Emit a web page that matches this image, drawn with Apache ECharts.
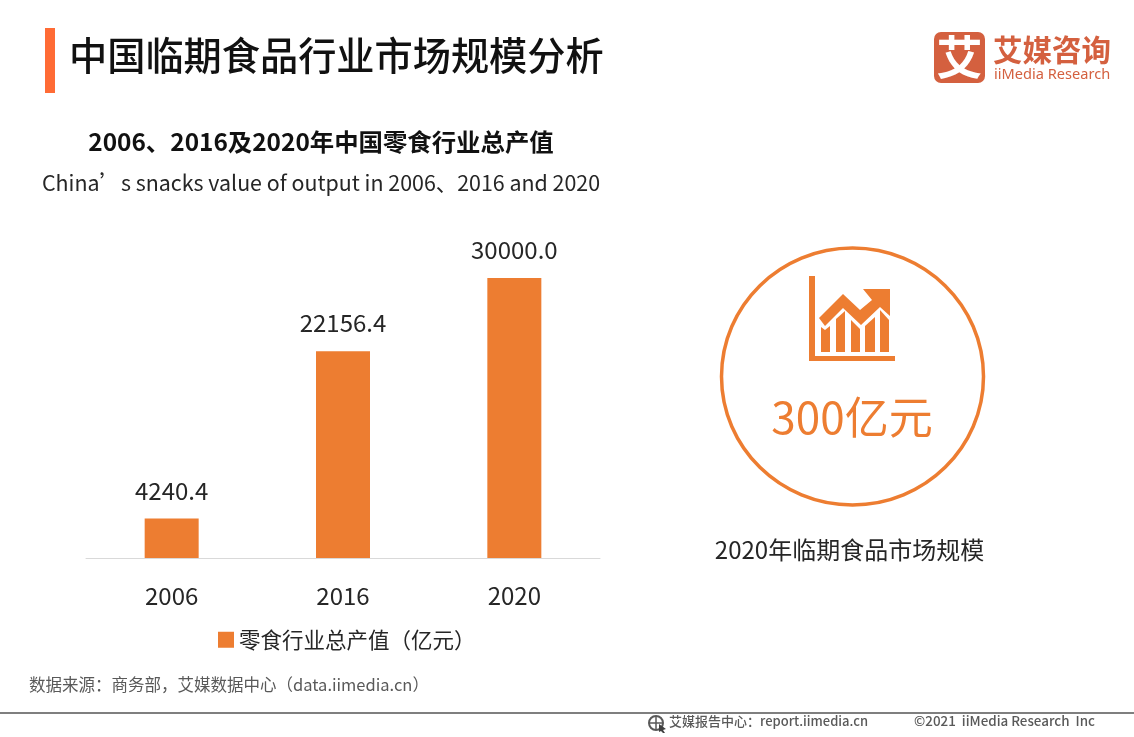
<!DOCTYPE html>
<html><head><meta charset="utf-8">
<style>html,body{margin:0;padding:0;background:#fff}#c{width:1134px;height:737px}</style>
<script src="https://cdn.jsdelivr.net/npm/echarts@6/dist/echarts.min.js"></script></head>
<body><div id="c"></div>
<script>
const categories = ['2006','2016','2020'];
const seriesName = '零食行业总产值（亿元）';
const values = [4240.4, 22156.4, 30000.0];
const F = '"Noto Sans CJK SC","Noto Sans",sans-serif';
const ORANGE = '#ED7D31';
const txt = (x,y,text,size,color,extra) => ({type:'text',x,y,silent:true,style:Object.assign({text,fontSize:size,fontFamily:F,fill:color,verticalAlign:'middle'},extra||{})});
const poly = (points) => ({type:'polygon',shape:{points},style:{fill:ORANGE},silent:true});
const chart = echarts.init(document.getElementById('c'),null,{renderer:'canvas'});
chart.setOption({
  animation:false,
  backgroundColor:'#fff',
  legend:{show:true,data:[seriesName],left:213,top:624,itemWidth:16,itemHeight:16,itemGap:7,icon:'rect',
    textStyle:{fontFamily:F,fontSize:21.5,color:'#262626'}},
  grid:{left:86,right:534,top:278,height:280},
  xAxis:{type:'category',data:categories,
    axisLine:{lineStyle:{color:'#D9D9D9',width:1}},axisTick:{show:false},
    axisLabel:{fontFamily:F,fontSize:24,color:'#262626',margin:26}},
  yAxis:{type:'value',min:0,max:30000,show:false,splitLine:{show:false}},
  series:[{type:'bar',name:seriesName,data:values,barWidth:54,itemStyle:{color:ORANGE},
    label:{show:true,position:'top',distance:16,fontFamily:F,fontSize:24,color:'#262626',
      formatter:p=>p.value.toFixed(1)}}],
  graphic:[
    {type:'rect',shape:{x:45,y:28,width:10,height:65},style:{fill:'#FF6B35'},silent:true},
    txt(69,55,'中国临期食品行业市场规模分析',38.2,'#111',{fontWeight:500}),
    // logo
    {type:'rect',shape:{x:934,y:32,width:51,height:51,r:7},style:{fill:'#D4603F'},silent:true},
    txt(959.5,57,'艾',46,'#fff',{align:'center',fontWeight:700}),
    txt(993,50,'艾媒咨询',29.5,'#D4603F',{fontWeight:700}),
    txt(994,75,'iiMedia Research',14.6,'#D4603F',{fontFamily:'"Noto Sans",sans-serif'}),
    // headings
    txt(321,142,'2006、2016及2020年中国零食行业总产值',24.4,'#111',{align:'center',fontWeight:700}),
    txt(321,183,'China’s snacks value of output in 2006、2016 and 2020',21.4,'#262626',{align:'center'}),
    // circle
    {type:'ellipse',shape:{cx:852.5,cy:376.5,rx:131,ry:128.5},style:{fill:'none',stroke:ORANGE,lineWidth:3.5},silent:true},
    // icon
    poly([[809,276],[815,276],[815,356],[895,356],[895,361],[809,361]]),
    poly([[819,318],[843,294],[860,310],[872,300],[863,289],[890,289],[890,316],[880,307],[861,325],[843,308],[825,326]]),
    poly([[821,327],[825,330],[830,326],[830,352],[821,352]]),
    poly([[836,319],[845,311],[845,352],[836,352]]),
    poly([[851,320],[860,329],[860,352],[851,352]]),
    poly([[865,326],[875,317],[875,352],[865,352]]),
    poly([[880,310],[889,320],[889,352],[880,352]]),
    txt(852,417,'300亿元',44,ORANGE,{align:'center'}),
    txt(849.5,550,'2020年临期食品市场规模',24,'#262626',{align:'center'}),
    // footer
    txt(29,685,'数据来源：商务部，艾媒数据中心（data.iimedia.cn）',16.5,'#595959'),
    {type:'rect',shape:{x:0,y:712,width:1134,height:2},style:{fill:'#7F7F7F'},silent:true},
    {type:'circle',shape:{cx:656,cy:723,r:7},style:{fill:'none',stroke:'#595959',lineWidth:2},silent:true},
    {type:'line',shape:{x1:649,y1:723,x2:663,y2:723},style:{stroke:'#595959',lineWidth:1.5},silent:true},
    {type:'line',shape:{x1:656,y1:716,x2:656,y2:730},style:{stroke:'#595959',lineWidth:1.5},silent:true},
    {type:'polygon',shape:{points:[[659,724],[666,729],[663,730],[665,733],[663,733],[661,731],[659,732]]},style:{fill:'#404040'},silent:true},
    txt(669,721,'艾媒报告中心：report.iimedia.cn',13,'#595959',{fontWeight:500}),
    txt(914,721,'©2021  iiMedia Research  Inc',13.4,'#595959',{fontWeight:500})
  ]
});
</script></body></html>
